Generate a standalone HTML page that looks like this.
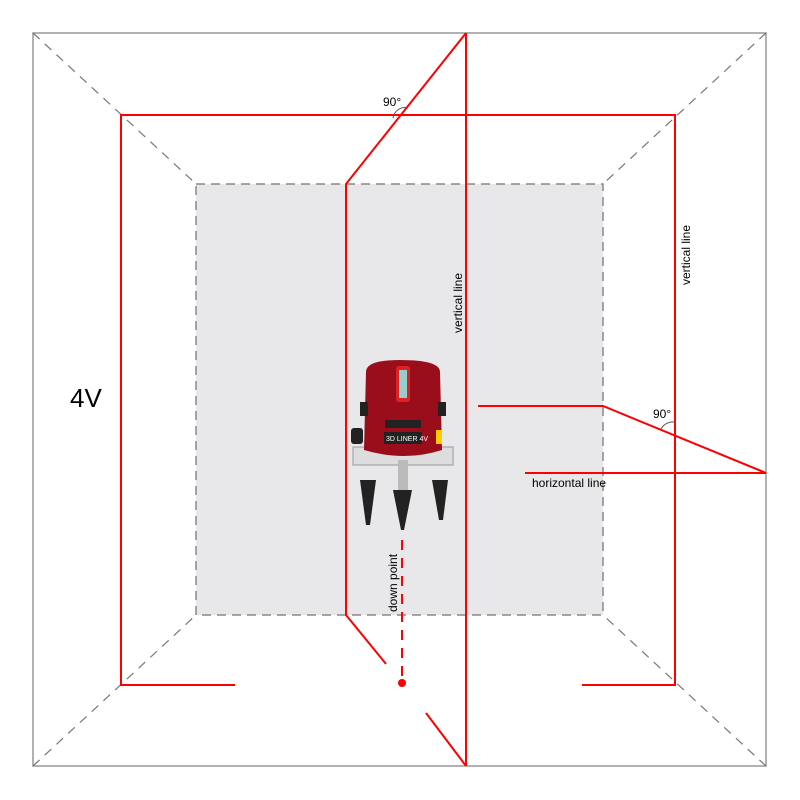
<!DOCTYPE html>
<html><head><style>body{margin:0;background:#fff}svg{display:block}</style></head><body>
<svg width="800" height="800" viewBox="0 0 800 800" xmlns="http://www.w3.org/2000/svg" font-family="Liberation Sans, sans-serif">
<rect x="33" y="33" width="733" height="733" fill="#fff" stroke="#999" stroke-width="1.5"/>
<rect x="196" y="184" width="407" height="431" fill="#e8e7ea" stroke="#888" stroke-width="1.5" stroke-dasharray="9,6"/>
<g stroke="#777" stroke-width="1.2" stroke-dasharray="9,7">
<line x1="33" y1="33" x2="196" y2="184"/>
<line x1="766" y1="33" x2="603" y2="184"/>
<line x1="33" y1="766" x2="196" y2="615"/>
<line x1="766" y1="766" x2="603" y2="615"/>
</g>
<g stroke="#f00" stroke-width="2" fill="none">
<polyline points="235,685 121,685 121,115 675,115 675,685 582,685"/>
<line x1="466" y1="33" x2="466" y2="766"/>
<polyline points="466,33 346,184 346,615 386,664"/>
<line x1="426" y1="713" x2="466" y2="766"/>
<polyline points="478,406 603,406 766,473 525,473"/>
<line x1="402" y1="540" x2="402" y2="680" stroke-dasharray="10,8"/>
</g>
<circle cx="402" cy="683" r="4" fill="#f00"/>
<g fill="none" stroke="#555" stroke-width="1">
<path d="M393 118 A12 12 0 0 1 408 108"/>
<path d="M661 429 A14 14 0 0 1 675 422"/>
</g>
<text x="383" y="106" font-size="12">90°</text>
<text x="653" y="418" font-size="12">90°</text>
<text x="532" y="487" font-size="12">horizontal line</text>
<text x="70" y="407" font-size="26">4V</text>
<text transform="translate(462,333) rotate(-90)" font-size="12">vertical line</text>
<text transform="translate(690,285) rotate(-90)" font-size="12">vertical line</text>
<text transform="translate(397,612) rotate(-90)" font-size="12">down point</text>
<!-- device -->
<g>
<rect x="353" y="447" width="100" height="18" fill="#ddd" stroke="#999"/>
<path d="M360 480 L376 480 L370 525 L366 525 Z" fill="#222"/>
<path d="M432 480 L448 480 L443 520 L439 520 Z" fill="#222"/>
<rect x="398" y="460" width="10" height="30" fill="#bbb"/>
<path d="M393 490 L412 490 L404 530 L401 530 Z" fill="#222"/>
<rect x="351" y="428" width="12" height="16" rx="3" fill="#222"/>
<path d="M366 372 Q366 360 400 360 Q440 360 440 372 L442 450 Q405 462 364 450 Z" fill="#9a0e1c"/>
<rect x="396" y="366" width="14" height="36" rx="3" fill="#d22"/>
<rect x="399" y="370" width="8" height="28" fill="#9cc"/>
<rect x="385" y="420" width="36" height="8" fill="#222"/>
<rect x="384" y="432" width="38" height="12" fill="#222"/>
<text x="386" y="441" font-size="7" fill="#fff">3D LINER 4V</text>
<rect x="436" y="430" width="6" height="14" fill="#fc0"/>
<rect x="360" y="402" width="8" height="14" fill="#222"/>
<rect x="438" y="402" width="8" height="14" fill="#222"/>
</g>
</svg>
</body></html>
